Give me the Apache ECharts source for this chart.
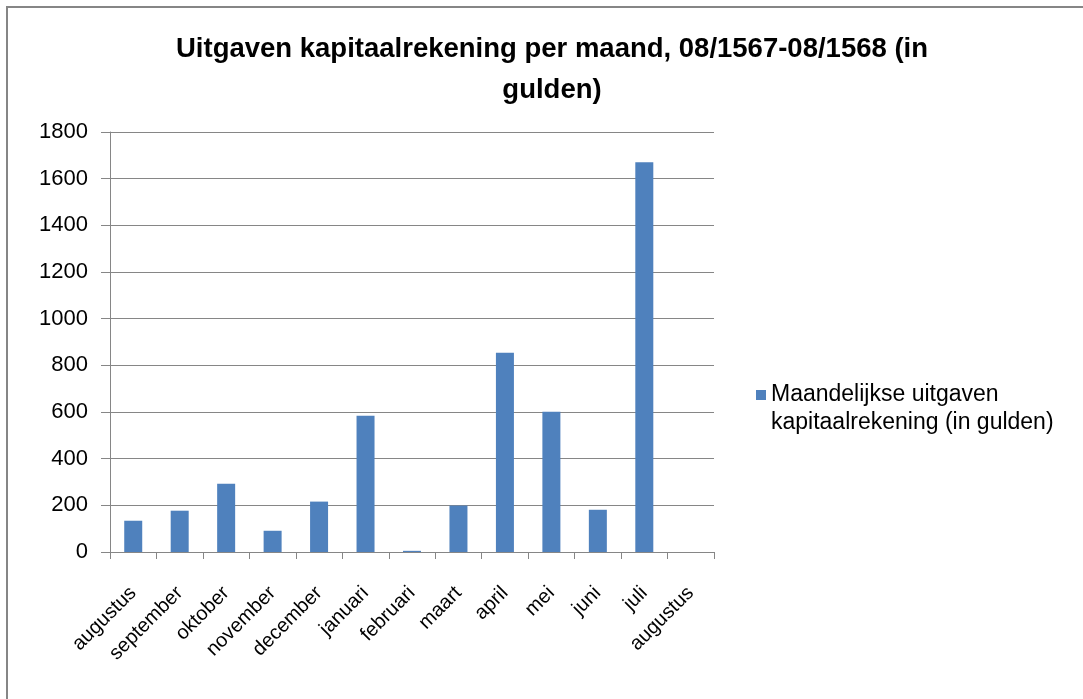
<!DOCTYPE html>
<html>
<head>
<meta charset="utf-8">
<script src="https://cdn.jsdelivr.net/npm/echarts@6/dist/echarts.min.js"></script>
<style>
html,body{margin:0;padding:0;background:#fff;}
#chart{width:1083px;height:699px;}
</style>
</head>
<body>
<div id="chart"></div>
<script>
const months = ['augustus','september','oktober','november','december','januari','februari','maart','april','mei','juni','juli','augustus'];
const values = [134, 177, 293, 91, 216, 584, 5, 199, 854, 601, 181, 1670, 0];
const yTicks = {min: 0, max: 1800, interval: 200};
const seriesName = 'Maandelijkse uitgaven kapitaalrekening (in gulden)';
const legendLabel = 'Maandelijkse uitgaven\nkapitaalrekening (in gulden)';
const titleText = 'Uitgaven kapitaalrekening per maand, 08/1567-08/1568 (in\ngulden)';

const FONT = '"Liberation Sans", Arial, sans-serif';
const chart = echarts.init(document.getElementById('chart'), null, {renderer: 'canvas'});
chart.setOption({
  animation: false,
  backgroundColor: '#ffffff',
  graphic: [{
    type: 'rect', silent: true,
    shape: {x: 7, y: 7, width: 1100, height: 720},
    style: {fill: 'none', stroke: '#868686', lineWidth: 2}
  }],
  title: {
    text: titleText,
    left: 547, top: 24, textAlign: 'center',
    textStyle: {fontFamily: FONT, fontWeight: 'bold', fontSize: 27.5, color: '#000', lineHeight: 41}
  },
  legend: {
    left: 751, top: 376, orient: 'vertical',
    itemWidth: 10, itemHeight: 38, itemGap: 7,
    icon: 'path://M0,0h10v10h-10z M0,37.99h0.01v0.01h-0.01z',
    formatter: function(){ return legendLabel; },
    textStyle: {fontFamily: FONT, fontSize: 23, color: '#000', lineHeight: 28}
  },
  grid: {left: 110, top: 132, width: 604, height: 420, containLabel: false},
  xAxis: {
    type: 'category', data: months, boundaryGap: true,
    axisLine: {lineStyle: {color: '#868686', width: 1}},
    axisTick: {show: true, length: 7, alignWithLabel: false, lineStyle: {color: '#868686'}},
    axisLabel: {rotate: 45, interval: 0, margin: 38, padding: [16, 0, 0, 0], fontFamily: FONT, fontSize: 20, color: '#000'},
    splitLine: {show: false}
  },
  yAxis: {
    type: 'value', min: yTicks.min, max: yTicks.max, interval: yTicks.interval,
    axisLine: {show: true, lineStyle: {color: '#868686', width: 1}},
    axisTick: {show: true, length: 9, lineStyle: {color: '#868686'}},
    axisLabel: {margin: 22, fontFamily: FONT, fontSize: 22, color: '#000', formatter: function(v){ return String(v); }},
    splitLine: {show: true, lineStyle: {color: '#868686', width: 1}}
  },
  series: [{
    name: seriesName, type: 'bar', data: values, barWidth: 18,
    itemStyle: {color: '#4F81BD'}
  }]
});
</script>
</body>
</html>
